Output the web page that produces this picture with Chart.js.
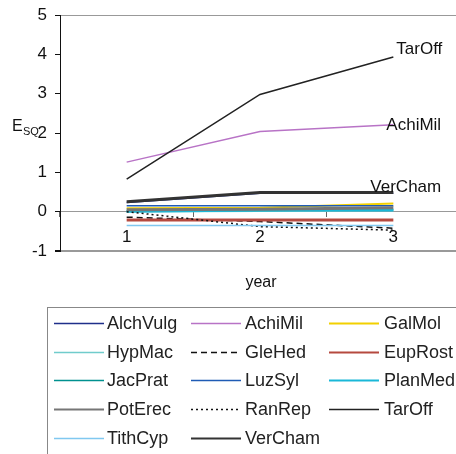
<!DOCTYPE html>
<html>
<head>
<meta charset="utf-8">
<script src="https://cdn.jsdelivr.net/npm/chart.js@4"></script>
<style>
  html, body { margin: 0; padding: 0; background: #fff; overflow: hidden; }
  #wrap { width: 456px; height: 454px; overflow: hidden; }
</style>
</head>
<body>
<div id="wrap"><canvas id="myChart" width="460" height="454"></canvas></div>
<script>
const YEARS = ['1', '2', '3'];

const SPECIES = ['AlchVulg', 'AchiMil', 'GalMol', 'HypMac', 'GleHed', 'EupRost',
    'JacPrat', 'LuzSyl', 'PlanMed', 'PotErec', 'RanRep', 'TarOff', 'TithCyp', 'VerCham'];

// E_SQ values per species for years 1..3
const ALCH_VULG = [0.23, 0.47, 0.47];
const ACHI_MIL = [1.26, 2.04, 2.21];
const GAL_MOL = [0.09, 0.10, 0.21];
const HYP_MAC = [0.00, 0.01, 0.03];
const GLE_HED = [-0.14, -0.25, -0.42];
const EUP_ROST = [-0.21, -0.21, -0.21];
const JAC_PRAT = [0.02, 0.03, 0.05];
const LUZ_SYL = [0.15, 0.15, 0.15];
const PLAN_MED = [0.01, 0.04, 0.04];
const POT_EREC = [0.05, 0.06, 0.10];
const RAN_REP = [0.00, -0.38, -0.47];
const TAR_OFF = [0.83, 2.98, 3.93];
const TITH_CYP = [-0.35, -0.35, -0.35];
const VER_CHAM = [0.25, 0.49, 0.49];

const Y_TICKS = [-1, 0, 1, 2, 3, 4, 5];
const LABELLED = ['TarOff', 'AchiMil', 'VerCham'];

const SERIES = [ALCH_VULG, ACHI_MIL, GAL_MOL, HYP_MAC, GLE_HED, EUP_ROST,
    JAC_PRAT, LUZ_SYL, PLAN_MED, POT_EREC, RAN_REP, TAR_OFF, TITH_CYP, VER_CHAM];

const LINE_COLORS = ['#1f2f8a', '#b873c6', '#f2d000', '#70cccc', '#111111', '#b5493f',
    '#00918f', '#1f5bb5', '#1ab8d8', '#767676', '#111111', '#222222', '#80c8f0', '#333333'];
const LINE_WIDTHS = [1.5, 1.5, 2, 1.5, 1.5, 3, 1.5, 1.5, 3, 3, 1.5, 1.5, 1.5, 3];
const LINE_DASHES = [[], [], [], [], [6, 4], [], [], [], [], [], [2, 3], [], [], []];

const FONT = 'Liberation Sans, Arial, sans-serif';
Chart.defaults.font.family = FONT;

// draws the series names at the line ends, axis titles and the boxed legend
const extrasPlugin = {
    id: 'extras',
    afterDraw(chart) {
        const ctx = chart.ctx;
        ctx.save();
        ctx.fillStyle = '#111';
        ctx.textBaseline = 'alphabetic';

        // labels near the last point
        ctx.font = '17px ' + FONT;
        const offsets = { TarOff: [3, -3], AchiMil: [-7, 5], VerCham: [-23, 0] };
        chart.data.datasets.forEach((ds, i) => {
            if (!LABELLED.includes(ds.label)) return;
            const pt = chart.getDatasetMeta(i).data[YEARS.length - 1];
            const off = offsets[ds.label];
            ctx.textAlign = 'left';
            ctx.fillText(ds.label, pt.x + off[0], pt.y + off[1]);
        });

        // axis titles
        ctx.font = '16px ' + FONT;
        ctx.textAlign = 'center';
        ctx.fillText('year', 261, 287);
        ctx.textAlign = 'left';
        ctx.fillText('E', 12, 131);
        ctx.font = '11px ' + FONT;
        ctx.fillText('SQ', 23, 135);

        // legend
        ctx.strokeStyle = '#888';
        ctx.lineWidth = 1;
        ctx.strokeRect(47.5, 307.5, 420, 160);
        const colLine = [[54, 104], [191, 241], [329, 379]];
        const colText = [107, 245, 384];
        ctx.font = '18px ' + FONT;
        ctx.textBaseline = 'middle';
        chart.data.datasets.forEach((ds, i) => {
            const col = i % 3;
            const row = Math.floor(i / 3);
            const y = 323 + row * 28.7;
            ctx.beginPath();
            ctx.setLineDash(ds.borderDash);
            ctx.strokeStyle = ds.borderColor;
            ctx.lineWidth = Math.min(ds.borderWidth, 2);
            ctx.moveTo(colLine[col][0], Math.round(y) + 0.5);
            ctx.lineTo(colLine[col][1], Math.round(y) + 0.5);
            ctx.stroke();
            ctx.setLineDash([]);
            ctx.fillStyle = '#222';
            ctx.textAlign = 'left';
            ctx.fillText(ds.label, colText[col], y + 1);
        });
        ctx.restore();
    }
};

const datasets = SPECIES.map((name, i) => ({
    label: name,
    data: SERIES[i],
    borderColor: LINE_COLORS[i],
    backgroundColor: LINE_COLORS[i],
    borderWidth: LINE_WIDTHS[i],
    borderDash: LINE_DASHES[i],
    pointRadius: 0,
    tension: 0,
    fill: false,
    order: SPECIES.length - i
}));

const ctx = document.getElementById('myChart');
const myChart = new Chart(ctx, {
    type: 'line',
    data: {
        labels: YEARS,
        datasets: datasets
    },
    options: {
        responsive: false,
        animation: false,
        layout: {
            padding: { top: 15, left: 0, right: 0, bottom: 203 }
        },
        plugins: {
            legend: { display: false },
            tooltip: { enabled: false }
        },
        scales: {
            x: {
                type: 'category',
                position: { y: 0 },
                offset: true,
                border: { display: false },
                grid: {
                    offset: true,
                    drawOnChartArea: false,
                    drawTicks: true,
                    tickLength: 5,
                    color: '#666'
                },
                ticks: {
                    padding: 10,
                    color: '#111',
                    font: { size: 17 }
                }
            },
            y: {
                min: -1,
                max: 5,
                afterBuildTicks(scale) {
                    scale.ticks = Y_TICKS.map(v => ({ value: v }));
                },
                afterFit(scale) {
                    scale.width = 60;
                },
                border: { color: '#111', width: 1 },
                grid: {
                    color: c => [5, 0, -1].includes(c.tick && c.tick.value) ? '#999' : 'rgba(0,0,0,0)',
                    lineWidth: c => (c.tick && c.tick.value === -1) ? 2 : 1,
                    tickColor: '#111',
                    tickLength: 5
                },
                ticks: {
                    padding: 8,
                    color: '#111',
                    font: { size: 17, lineHeight: 0.8 }
                }
            }
        }
    },
    plugins: [extrasPlugin]
});
</script>
</body>
</html>
